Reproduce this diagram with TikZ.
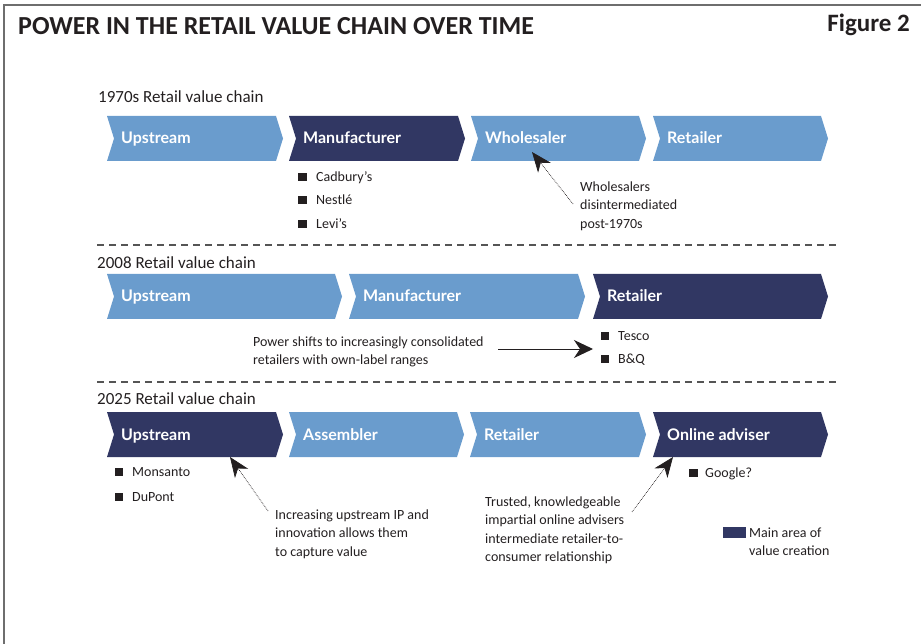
\documentclass[tikz,border=0pt]{standalone}
\usepackage{fontspec}
\setmainfont{Carlito}
\newfontfamily\latofont{Lato}
\usetikzlibrary{arrows.meta}
\definecolor{lightblue}{HTML}{6A9CCD}
\definecolor{navy}{HTML}{313763}
\definecolor{inkc}{HTML}{231F20}
\definecolor{framec}{HTML}{6E6E6E}
\definecolor{dashc}{HTML}{555555}
\tikzset{
  chevtext/.style={anchor=base west, inner sep=0pt, text=white, font=\latofont\bfseries\fontsize{16}{19}\selectfont},
  seclabel/.style={anchor=base west, inner sep=0pt, text=inkc, font=\fontsize{17}{20}\selectfont},
  bulletsq/.style={fill=inkc, minimum size=8.5pt, inner sep=0pt},
  bullettext/.style={anchor=base west, inner sep=0pt, text=inkc, font=\fontsize{14}{17}\selectfont},
  annot/.style={anchor=north west, inner sep=0pt, align=left, text=inkc, font=\fontsize{14}{18.5}\selectfont},
  dotarrow/.style={inkc, line width=0.7pt, densely dotted, -{Stealth[length=20pt, width=16pt, inset=6pt]}},
  solidarrow/.style={inkc, line width=1pt, -{Stealth[length=19pt, width=18pt, inset=6pt]}},
  sepline/.style={dashc, line width=1.2pt, dash pattern=on 7pt off 5pt},
}
\newcommand\chevron[6]{%
  \fill[#5] (#2,#4) -- ({#3-7},#4) -- (#3,{#4+22.5}) -- ({#3-7},{#4+45}) -- (#2,{#4+45}) -- ({#2+7},{#4+22.5}) -- cycle;
  \node[chevtext] (#1) at ({#2+14},{#4+28}) {#6};
}
\begin{document}
\begin{tikzpicture}[x=1pt, y=-1pt]
\useasboundingbox (0,0) rectangle (921,644);
% frame
\draw[framec, line width=2pt] (3.5,644) -- (3.5,5) -- (921,5);
% title
\node[anchor=base west, inner sep=0pt, text=inkc, font=\bfseries\fontsize{26}{30}\selectfont] (title) at (18,35) {POWER IN THE RETAIL VALUE CHAIN OVER TIME};
\node[anchor=base east, inner sep=0pt, text=inkc, font=\bfseries\fontsize{25}{30}\selectfont] (fig) at (910,31.5) {Figure 2};

% ---------- 1970s ----------
\node[seclabel] (lab1970) at (98,102.5) {1970s Retail value chain};
\chevron{r1up}{107}{283}{116}{lightblue}{Upstream}
\chevron{r1man}{289}{465}{116}{navy}{Manufacturer}
\chevron{r1who}{471}{646}{116}{lightblue}{Wholesaler}
\chevron{r1ret}{653}{828}{116}{lightblue}{Retailer}

\node[bulletsq] (b1) at (302.5,177) {};
\node[bullettext] (t1) at (316,181.5) {Cadbury's};
\node[bulletsq] (b2) at (302.5,200) {};
\node[bullettext] (t2) at (316,204.5) {Nestlé};
\node[bulletsq] (b3) at (302.5,224) {};
\node[bullettext] (t3) at (316,228.5) {Levi's};

\node[annot] (whonote) at (580,181.5) {Wholesalers\\disintermediated\\post-1970s};
\coordinate (a1tail) at (573,204);
\coordinate (a1tip) at (532,152);
\draw[dotarrow] (a1tail) -- (a1tip);

\draw[sepline] (97,245) -- (838,245);

% ---------- 2008 ----------
\node[seclabel] (lab2008) at (97,268.5) {2008 Retail value chain};
\chevron{r2up}{107}{342}{274}{lightblue}{Upstream}
\chevron{r2man}{349}{585}{274}{lightblue}{Manufacturer}
\chevron{r2ret}{593}{828}{274}{navy}{Retailer}

\node[annot] (pownote) at (253,336.5) {Power shifts to increasingly consolidated\\retailers with own-label ranges};
\coordinate (a2tail) at (498,349);
\coordinate (a2tip) at (593,349);
\draw[solidarrow] (a2tail) -- (a2tip);

\node[bulletsq] (b4) at (605,336) {};
\node[bullettext] (t4) at (618,340.5) {Tesco};
\node[bulletsq] (b5) at (605,359) {};
\node[bullettext] (t5) at (618,363.5) {B\&Q};

\draw[sepline] (97,382) -- (838,382);

% ---------- 2025 ----------
\node[seclabel] (lab2025) at (97,404.5) {2025 Retail value chain};
\chevron{r3up}{107}{283}{412}{navy}{Upstream}
\chevron{r3ass}{289}{464}{412}{lightblue}{Assembler}
\chevron{r3ret}{470}{646}{412}{lightblue}{Retailer}
\chevron{r3onl}{653}{828}{412}{navy}{Online adviser}

\node[bulletsq] (b6) at (119,472) {};
\node[bullettext] (t6) at (132,476.5) {Monsanto};
\node[bulletsq] (b7) at (119,497) {};
\node[bullettext] (t7) at (132,501.5) {DuPont};

\node[bulletsq] (b8) at (693.5,473) {};
\node[bullettext] (t8) at (705,477.5) {Google?};

\node[annot] (upnote) at (275,509.5) {Increasing upstream IP and\\innovation allows them\\to capture value};
\coordinate (a3tail) at (268,511);
\coordinate (a3tip) at (230,457);
\draw[dotarrow] (a3tail) -- (a3tip);

\node[annot] (trustnote) at (485,496.5) {Trusted, knowledgeable\\impartial online advisers\\intermediate retailer-to-\\consumer relationship};
\coordinate (a4tail) at (632,512);
\coordinate (a4tip) at (673,457);
\draw[dotarrow] (a4tail) -- (a4tip);

% legend
\node[fill=navy, minimum width=23pt, minimum height=11pt, inner sep=0pt, anchor=north west] (legsq) at (723,527) {};
\node[annot] (legtext) at (749,527.5) {Main area of\\value creation};
\end{tikzpicture}
\end{document}
